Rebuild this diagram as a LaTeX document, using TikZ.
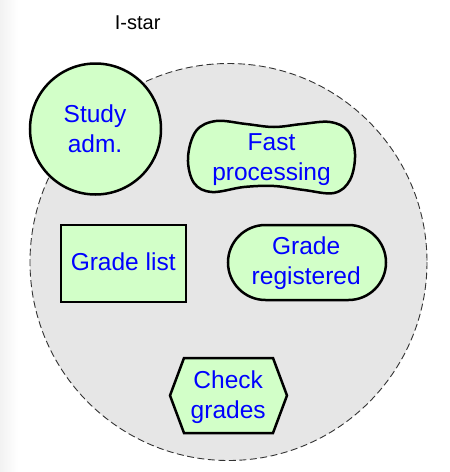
\documentclass[tikz,border=0pt]{standalone}
\usepackage{fontspec}
\setmainfont{Liberation Sans}
\definecolor{shapegreen}{HTML}{D2FFC8}
\definecolor{bggray}{HTML}{E6E6E6}
\definecolor{edgegray}{HTML}{F2F2F2}
\tikzset{
  shapeline/.style={draw=black, line width=2.5pt, fill=shapegreen},
  lbl/.style={text=blue, align=center, inner sep=0pt, text height=18pt, text depth=6pt,
    font=\fontsize{24.5}{30}\selectfont},
}
\begin{document}
\begin{tikzpicture}[x=1pt,y=-1pt]
\useasboundingbox (0,0) rectangle (450,472);
\fill[white] (0,0) rectangle (450,472);
\shade[left color=edgegray, right color=white] (0,0) rectangle (18,472);
% title
\node[font=\fontsize{20}{24}\selectfont, anchor=base, inner sep=0pt] (title) at (137.7,29.3) {I-star};
% boundary
\draw[fill=bggray, draw=black!80, line width=0.9pt, dash pattern=on 7pt off 3.5pt] (228.5,262) circle[radius=198.5];
% Study adm.
\draw[shapeline] (95.5,129) circle[radius=65.5];
\node[lbl] (study) at (95,146) {Study\\adm.};
% Fast processing blob
\draw[shapeline] plot[smooth cycle, tension=0.6] coordinates {
  (188,158) (196,131) (216,121) (246,124) (274,127) (302,124) (330,122) (348,131)
  (355,154) (350,180) (334,193) (304,190) (274,186) (244,187) (212,192) (194,183)};
\node[lbl] (fast) at (271.5,174.3) {Fast\\processing};
% Grade list
\draw[shapeline] (61,225) rectangle (186,302);
\node[lbl] (gradelist) at (123.2,264.7) {Grade list};
% Grade registered
\draw[shapeline, rounded corners=37.5pt] (228,225) rectangle (386,300);
\node[lbl] (gradereg) at (306.2,278.3) {Grade\\registered};
% Check grades
\draw[shapeline] (170,395.5) -- (184,358) -- (273,358) -- (287,395.5) -- (273,433) -- (184,433) -- cycle;
\node[lbl] (check) at (228.2,412.8) {Check\\grades};
\end{tikzpicture}
\end{document}
